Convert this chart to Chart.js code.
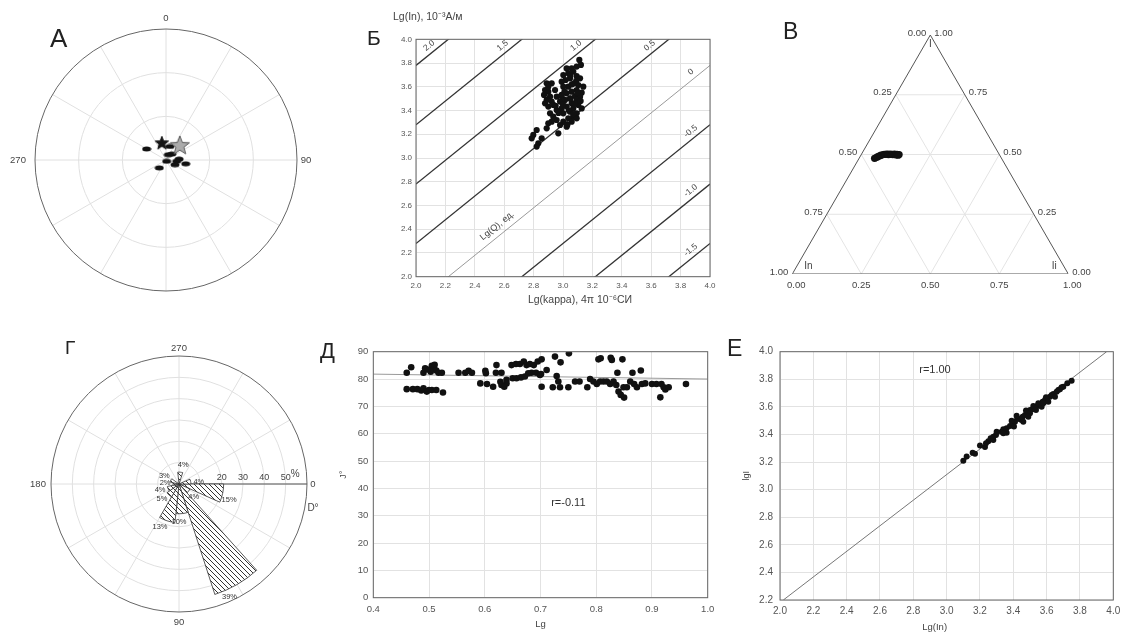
<!DOCTYPE html>
<html>
<head>
<meta charset="utf-8">
<script src="https://cdn.jsdelivr.net/npm/chart.js@4.4.1/dist/chart.umd.min.js"></script>
<style>
  html, body { margin: 0; padding: 0; background: #fff; overflow: hidden; }
  #fig { position: relative; width: 1121px; height: 633px; overflow: hidden; background: #fff; }
  #fig canvas { position: absolute; }
  .tag { position: absolute; font-family: "Liberation Sans", Arial, sans-serif; color: #222; line-height: 1; }
</style>
</head>
<body>
<div id="fig">
  <canvas id="chA" width="330" height="300" style="left:0;top:0"></canvas>
  <canvas id="chB" width="420" height="310" style="left:330px;top:0"></canvas>
  <canvas id="chV" width="381" height="300" style="left:740px;top:0"></canvas>
  <canvas id="chG" width="330" height="333" style="left:0;top:300px"></canvas>
  <canvas id="chD" width="420" height="333" style="left:330px;top:300px"></canvas>
  <canvas id="chE" width="400" height="333" style="left:740px;top:300px"></canvas>
  <div class="tag" style="left:50px;top:24.6px;font-size:26px">А</div>
  <div class="tag" style="left:367px;top:27.3px;font-size:21px">Б</div>
  <div class="tag" style="left:783px;top:20px;font-size:23px">В</div>
  <div class="tag" style="left:65px;top:337.5px;font-size:19px">Г</div>
  <div class="tag" style="left:320px;top:340px;font-size:22px">Д</div>
  <div class="tag" style="left:727px;top:337px;font-size:23px">Е</div>
</div>
<script>
const DEG = Math.PI / 180;
const FONT = '"Liberation Sans", Arial, sans-serif';

// --- A: directions (declination / inclination) ---
const aDec = [300, 23, 152, 97, 101, 118, 220, 16, 44, 86];
const aInc = [74.6, 86, 89, 82.6, 76.2, 83, 82.8, 80.2, 84.3, 81];
const aStarDec = [347];
const aStarInc = [77.3];
const aMeanDec = [42];
const aMeanInc = [75.8];
const aRingInc = [60, 30];
const aDirLabels = ["0", "90", "180", "270"];

// --- Б: Lg(kappa) vs Lg(In) with Lg(Q) isolines ---
const bKappa = [
  3.111, 3.122, 3.093, 3.059, 3.025, 3.070, 3.036, 3.002, 3.093, 3.116,
  3.048, 3.018, 2.991, 3.075, 3.104, 3.138, 3.036, 3.002, 3.093, 3.059,
  3.127, 3.025, 2.991, 3.082, 3.116, 3.048, 3.014, 3.093, 2.980, 3.059,
  3.104, 3.025, 3.070, 2.991, 3.127, 3.048, 3.093, 3.002, 3.070, 3.036,
  3.093, 2.957, 3.002, 3.059, 2.923, 2.900, 2.980, 3.025, 2.889, 2.968,
  2.821, 2.798, 2.787, 2.855, 2.832, 2.821, 2.878, 2.900, 2.871, 2.912,
  2.889, 2.923, 2.878, 2.900, 2.934, 2.957, 2.912, 2.934, 2.889, 2.923,
  2.900, 2.957, 2.946, 3.05, 3.08, 3.00, 3.04, 3.10, 3.06, 3.01,
  3.12, 2.97, 3.03, 3.07, 2.99, 3.09, 3.05, 2.95
];
const bIn = [
  3.826, 3.784, 3.770, 3.755, 3.755, 3.727, 3.713, 3.699, 3.691, 3.671,
  3.671, 3.657, 3.643, 3.629, 3.615, 3.601, 3.601, 3.601, 3.573, 3.559,
  3.550, 3.545, 3.531, 3.522, 3.517, 3.503, 3.489, 3.489, 3.475, 3.461,
  3.447, 3.433, 3.418, 3.418, 3.418, 3.390, 3.376, 3.376, 3.348, 3.334,
  3.334, 3.320, 3.306, 3.306, 3.306, 3.292, 3.278, 3.264, 3.250, 3.208,
  3.236, 3.194, 3.166, 3.166, 3.124, 3.096, 3.573, 3.559, 3.531, 3.517,
  3.489, 3.475, 3.461, 3.433, 3.447, 3.404, 3.376, 3.348, 3.629, 3.629,
  3.601, 3.517, 3.573, 3.50, 3.46, 3.45, 3.40, 3.55, 3.62, 3.56,
  3.48, 3.38, 3.28, 3.37, 3.52, 3.65, 3.69, 3.44
];
const qLevels = [2.0, 1.5, 1.0, 0.5, 0, -0.5, -1.0, -1.5];
const qOffset = 0.22;

// --- В: ternary In / I / Ii ---
const tI  = [0.484, 0.487, 0.491, 0.494, 0.497, 0.499, 0.501, 0.500, 0.502, 0.501, 0.499,
             0.502, 0.500, 0.501, 0.499, 0.502, 0.500, 0.498, 0.501, 0.499, 0.497, 0.500];
const tIi = [0.056, 0.061, 0.064, 0.069, 0.073, 0.078, 0.083, 0.087, 0.091, 0.096, 0.099,
             0.103, 0.107, 0.111, 0.115, 0.119, 0.122, 0.126, 0.129, 0.132, 0.135, 0.137];
const tGrid = [0.25, 0.5, 0.75];
const tTicks = [0, 0.25, 0.5, 0.75, 1];

// --- Г: rose of declinations, 24° bins ---
const roseBins = [0, 24, 48, 72, 96, 120, 144, 168, 192, 216, 240, 264, 288, 312, 336];
const rosePct = [15, 4, 39, 10, 13, 5, 4, 2, 3, 0, 0, 4, 0, 0, 4];
const roseBin = 24;
const roseMax = 43;
const roseRings = [10, 20, 30, 40, 50];
const roseRingMax = 60;
const roseTicks = [20, 30, 40, 50];

// --- Д: Lg vs J° ---
const dLg = [
  0.460, 0.468, 0.460, 0.471, 0.479, 0.486, 0.490, 0.496, 0.500, 0.505,
  0.513, 0.525, 0.490, 0.493, 0.505, 0.509, 0.513, 0.517, 0.523, 0.503,
  0.553, 0.565, 0.571, 0.577, 0.601, 0.602, 0.592, 0.604, 0.615, 0.621,
  0.620, 0.630, 0.628, 0.630, 0.639, 0.635, 0.639, 0.648, 0.656, 0.663,
  0.670, 0.675, 0.681, 0.688, 0.695, 0.702, 0.650, 0.657, 0.665, 0.672,
  0.678, 0.684, 0.692, 0.699, 0.702, 0.711, 0.722, 0.726, 0.729, 0.732,
  0.735, 0.736, 0.751, 0.750, 0.762, 0.770, 0.784, 0.789, 0.795, 0.801,
  0.804, 0.808, 0.807, 0.813, 0.819, 0.826, 0.828, 0.825, 0.831, 0.836,
  0.838, 0.840, 0.844, 0.850, 0.847, 0.849, 0.855, 0.861, 0.865, 0.868,
  0.873, 0.880, 0.882, 0.888, 0.900, 0.908, 0.915, 0.917, 0.921, 0.924,
  0.930, 0.961, 0.701, 0.497, 0.510
];
const dJ = [
  82.3, 84.3, 76.3, 76.3, 76.3, 75.8, 76.6, 75.4, 76.0, 76.0,
  76.0, 75.1, 82.3, 83.9, 84.8, 83.9, 83.1, 82.3, 82.3, 82.7,
  82.3, 82.3, 83.0, 82.3, 83.0, 82.1, 78.4, 78.2, 77.2, 85.1,
  82.3, 82.3, 79.0, 77.8, 78.4, 77.2, 79.7, 85.1, 85.5, 85.5,
  86.4, 85.1, 85.5, 85.1, 86.4, 87.2, 80.3, 80.3, 80.6, 80.9,
  82.1, 82.3, 82.3, 81.5, 77.2, 83.3, 77.0, 88.2, 81.1, 79.1,
  77.0, 86.1, 89.4, 77.0, 79.1, 79.1, 77.0, 80.0, 79.1, 78.2,
  87.2, 87.6, 79.1, 79.1, 79.1, 87.8, 87.0, 78.2, 79.1, 77.8,
  82.3, 75.4, 74.2, 73.2, 87.2, 77.0, 77.0, 79.1, 82.3, 78.2,
  77.0, 83.1, 78.2, 78.4, 78.2, 78.2, 73.3, 78.2, 77.0, 76.2,
  77.0, 78.2, 81.8, 83.5, 85.2
];
const dFitLg = [0.4, 1.0];
const dFitJ = [81.8, 80.0];

// --- Е: Lg(In) vs lgI ---
const eLgIn = [
  3.10, 3.12, 3.156, 3.17, 3.20, 3.23, 3.25, 3.264, 3.28, 3.296,
  3.33, 3.34, 3.36, 3.38, 3.396, 3.41, 3.424, 3.44, 3.456, 3.47,
  3.484, 3.50, 3.516, 3.53, 3.544, 3.56, 3.576, 3.59, 3.604, 3.62,
  3.64, 3.66, 3.68, 3.70, 3.724, 3.75, 3.30, 3.36, 3.39, 3.42,
  3.45, 3.476, 3.52, 3.50, 3.55, 3.57, 3.596, 3.63, 3.65, 3.67,
  3.236, 3.28, 3.34, 3.404, 3.46, 3.49, 3.536, 3.58, 3.61, 3.69
];
const eLgI = [
  3.21, 3.24, 3.268, 3.26, 3.32, 3.31, 3.35, 3.372, 3.384, 3.396,
  3.42, 3.437, 3.445, 3.461, 3.481, 3.493, 3.517, 3.51, 3.529, 3.541,
  3.558, 3.577, 3.582, 3.597, 3.606, 3.621, 3.638, 3.65, 3.662, 3.674,
  3.693, 3.71, 3.727, 3.746, 3.771, 3.79, 3.42, 3.413, 3.50, 3.535,
  3.505, 3.573, 3.606, 3.553, 3.626, 3.601, 3.669, 3.686, 3.674, 3.722,
  3.336, 3.36, 3.408, 3.457, 3.493, 3.529, 3.577, 3.626, 3.638, 3.742
];
const eFitLgIn = [2.02, 3.96];
const eFitLgI = [2.2, 4.0];

Chart.defaults.font.family = FONT;
Chart.defaults.color = "#444";
Chart.defaults.animation = false;
Chart.defaults.plugins.legend.display = false;
Chart.defaults.plugins.tooltip.enabled = false;

const pairs = (xs, ys) => xs.map((x, i) => ({x, y: ys[i]}));

const text = (ctx, str, x, y, o = {}) => {
  ctx.save();
  ctx.font = `${o.size || 10}px ${FONT}`;
  ctx.fillStyle = o.color || "#444";
  ctx.textAlign = o.align || "center";
  ctx.textBaseline = o.base || "middle";
  ctx.translate(x, y);
  if (o.rot) ctx.rotate(o.rot);
  ctx.fillText(str, 0, 0);
  ctx.restore();
};

// marker images
const ellipseMark = (w, h) => {
  const c = document.createElement("canvas");
  c.width = w; c.height = h;
  const g = c.getContext("2d");
  g.fillStyle = "#111";
  g.beginPath();
  g.ellipse(w / 2, h / 2, w / 2 - 0.5, h / 2 - 0.5, 0, 0, 2 * Math.PI);
  g.fill();
  return c;
};
const starMark = (size, fill, stroke) => {
  const c = document.createElement("canvas");
  c.width = size; c.height = size;
  const g = c.getContext("2d");
  const R = size / 2 - 1, r = R * 0.42, m = size / 2;
  g.beginPath();
  for (let k = 0; k < 10; k++) {
    const rad = k % 2 ? r : R;
    const a = -Math.PI / 2 + k * Math.PI / 5;
    g.lineTo(m + rad * Math.cos(a), m + 1 + rad * Math.sin(a));
  }
  g.closePath();
  g.fillStyle = fill; g.fill();
  g.strokeStyle = stroke; g.lineWidth = 1; g.stroke();
  return c;
};
const hatch = () => {
  const c = document.createElement("canvas");
  c.width = 5; c.height = 5;
  const g = c.getContext("2d");
  g.fillStyle = "#fff"; g.fillRect(0, 0, 5, 5);
  g.strokeStyle = "#333"; g.lineWidth = 1;
  g.beginPath();
  g.moveTo(-1, -1); g.lineTo(6, 6);
  g.moveTo(-1, 4); g.lineTo(1, 6);
  g.moveTo(4, -1); g.lineTo(6, 1);
  g.stroke();
  return document.createElement("canvas").getContext("2d").createPattern(c, "repeat");
};

// box around the plotting area
const frame = {
  id: "frame",
  afterDatasetsDraw(chart) {
    const {ctx, chartArea: a} = chart;
    ctx.save();
    ctx.strokeStyle = "#666"; ctx.lineWidth = 1;
    ctx.strokeRect(a.left, a.top, a.width, a.height);
    ctx.restore();
  }
};

const linAxis = (min, max, step, digits, size, pad, fit) => ({
  type: "linear", min, max,
  ticks: {stepSize: step, font: {size}, color: "#555", padding: pad, callback: v => Number(v).toFixed(digits)},
  grid: {color: "#e2e2e2", drawTicks: false},
  border: {display: false},
  afterFit: fit,
});

const lineSet = (data, color, width) => ({data, showLine: true, pointRadius: 0, borderColor: color, borderWidth: width, fill: false});

// ---------- A ----------
const stereo = (dec, inc) => {
  const r = (90 - inc) / 90;
  return {x: r * Math.sin(dec * DEG), y: r * Math.cos(dec * DEG)};
};
const stereoGrid = {
  id: "stereoGrid",
  beforeDatasetsDraw(chart) {
    const {ctx, scales: {x, y}} = chart;
    const cx = x.getPixelForValue(0), cy = y.getPixelForValue(0);
    const R = x.getPixelForValue(1) - cx;
    ctx.save();
    ctx.strokeStyle = "#e0e0e0"; ctx.lineWidth = 1;
    for (let a = 0; a < 360; a += 30) {
      ctx.beginPath(); ctx.moveTo(cx, cy);
      ctx.lineTo(cx + R * Math.sin(a * DEG), cy - R * Math.cos(a * DEG));
      ctx.stroke();
    }
    aRingInc.forEach(inc => {
      ctx.beginPath(); ctx.arc(cx, cy, R * (90 - inc) / 90, 0, 2 * Math.PI); ctx.stroke();
    });
    ctx.strokeStyle = "#666";
    ctx.beginPath(); ctx.arc(cx, cy, R, 0, 2 * Math.PI); ctx.stroke();
    ctx.restore();
    text(ctx, aDirLabels[0], cx, cy - R - 11, {size: 9.5});
    text(ctx, aDirLabels[1], cx + R + 9, cy, {size: 9.5});
    text(ctx, aDirLabels[2], cx, cy + R + 12, {size: 9.5});
    text(ctx, aDirLabels[3], cx - R - 17, cy, {size: 9.5});
  }
};
new Chart(document.getElementById("chA"), {
  type: "scatter",
  data: {datasets: [
    {data: aMeanDec.map((d, i) => stereo(d, aMeanInc[i])), pointStyle: starMark(22, "#ababab", "#5a5a5a"), pointRadius: 10},
    {data: aStarDec.map((d, i) => stereo(d, aStarInc[i])), pointStyle: starMark(16, "#151515", "#151515"), pointRadius: 7},
    {data: aDec.map((d, i) => stereo(d, aInc[i])), pointStyle: ellipseMark(10, 6), pointRadius: 5},
  ]},
  options: {
    responsive: false,
    layout: {padding: {left: 35, top: 31, right: 33, bottom: 7}},
    scales: {x: {min: -1, max: 1, display: false}, y: {min: -1, max: 1, display: false}},
  },
  plugins: [stereoGrid],
});

// ---------- Б ----------
const isoNotes = {
  id: "isoNotes",
  afterDatasetsDraw(chart) {
    const {ctx, chartArea: a, scales: {x, y}} = chart;
    qLevels.forEach(L => {
      const c = L - qOffset;
      const ex = c >= 0 ? 4 - c : 4, ey = c >= 0 ? 4 : 4 + c;
      const px = x.getPixelForValue(ex), py = y.getPixelForValue(ey);
      const qx = x.getPixelForValue(ex - 0.5), qy = y.getPixelForValue(ey - 0.5);
      const len = Math.hypot(qx - px, qy - py);
      const ux = (qx - px) / len, uy = (qy - py) / len;
      const tx = px + ux * 19 - uy * 7, ty = py + uy * 19 + ux * 7;
      const rot = Math.atan2(py - qy, px - qx);
      text(ctx, L === 0 ? "0" : L.toFixed(1), tx, ty, {size: 8.5, rot});
    });
    // name of the isoline family along the zero line
    const gx = 2.59, gy = gx - qOffset;
    const p1x = x.getPixelForValue(gx), p1y = y.getPixelForValue(gy);
    const p2x = x.getPixelForValue(gx + 0.5), p2y = y.getPixelForValue(gy + 0.5);
    const l = Math.hypot(p2x - p1x, p2y - p1y);
    const vx = (p2x - p1x) / l, vy = (p2y - p1y) / l;
    text(ctx, "Lg(Q), ед.", p1x + vy * 9, p1y - vx * 9, {size: 9, rot: Math.atan2(vy, vx)});
    text(ctx, "Lg(In), 10⁻³А/м", a.left - 23, 17, {size: 10.5, align: "left"});
    text(ctx, "Lg(kappa), 4π 10⁻⁶СИ", (a.left + a.right) / 2 + 17, a.bottom + 23.5, {size: 10.5});
  }
};
new Chart(document.getElementById("chB"), {
  type: "scatter",
  data: {datasets: [
    {data: pairs(bKappa, bIn), pointRadius: 3.1, backgroundColor: "#111", borderWidth: 0},
    ...qLevels.map(L => lineSet([{x: 2, y: 2 + L - qOffset}, {x: 4, y: 4 + L - qOffset}], L === 0 ? "#9a9a9a" : "#333", L === 0 ? 1 : 1.3)),
  ]},
  options: {
    responsive: false,
    layout: {padding: {left: 0, top: 39.3, right: 40, bottom: 0}},
    scales: {
      x: linAxis(2, 4, 0.2, 1, 8, 4, s => { s.height = 33.3; }),
      y: linAxis(2, 4, 0.2, 1, 8, 4, s => { s.width = 86; }),
    },
  },
  plugins: [frame, isoNotes],
});

// ---------- В ----------
const H3 = Math.sqrt(3) / 2;
const toTri = (I, Ii) => ({x: Ii + I / 2, y: I * H3});
const triSets = [lineSet([toTri(0, 0), toTri(0, 1), toTri(1, 0), toTri(0, 0)], "#555", 1)];
tGrid.forEach(k => {
  triSets.push(lineSet([toTri(k, 0), toTri(k, 1 - k)], "#e4e4e4", 1));
  triSets.push(lineSet([toTri(0, k), toTri(1 - k, k)], "#e4e4e4", 1));
  triSets.push(lineSet([toTri(0, 1 - k), toTri(1 - k, 0)], "#e4e4e4", 1));
});
const triNotes = {
  id: "triNotes",
  afterDatasetsDraw(chart) {
    const {ctx, scales: {x, y}} = chart;
    const P = p => [x.getPixelForValue(p.x), y.getPixelForValue(p.y)];
    tTicks.forEach(k => {
      const [lx, ly] = P(toTri(k, 0));
      text(ctx, (1 - k).toFixed(2), lx - 4, ly - 2, {size: 9.5, align: "right"});
      const [rx, ry] = P(toTri(k, 1 - k));
      text(ctx, k.toFixed(2), rx + 4, ry - 2, {size: 9.5, align: "left"});
      const [bx, by] = P(toTri(0, k));
      text(ctx, k.toFixed(2), bx + (k === 0 ? 4 : k === 1 ? 4 : 0), by + 11, {size: 9.5});
    });
    const [ax, ay] = P(toTri(1, 0));
    const [blx, bly] = P(toTri(0, 0));
    const [brx, bry] = P(toTri(0, 1));
    text(ctx, "I", ax, ay + 9, {size: 10});
    text(ctx, "In", blx + 16, bly - 8, {size: 10});
    text(ctx, "Ii", brx - 14, bry - 8, {size: 10});
  }
};
new Chart(document.getElementById("chV"), {
  type: "scatter",
  data: {datasets: [
    {data: tI.map((I, i) => toTri(I, tIi[i])), pointRadius: 3.6, backgroundColor: "#111", borderWidth: 0},
    ...triSets,
  ]},
  options: {
    responsive: false,
    layout: {padding: {left: 52.3, top: 35, right: 52.7, bottom: 26}},
    scales: {x: {min: 0, max: 1, display: false}, y: {min: 0, max: H3, display: false}},
  },
  plugins: [triNotes],
});

// ---------- Г ----------
const roseGrid = {
  id: "roseGrid",
  beforeDatasetsDraw(chart) {
    const {ctx} = chart;
    const r = chart.scales.r;
    const cx = r.xCenter, cy = r.yCenter, R = r.drawingArea;
    ctx.save();
    ctx.strokeStyle = "#e0e0e0"; ctx.lineWidth = 1;
    for (let a = 0; a < 360; a += 30) {
      ctx.beginPath(); ctx.moveTo(cx, cy);
      ctx.lineTo(cx + R * Math.cos(a * DEG), cy + R * Math.sin(a * DEG));
      ctx.stroke();
    }
    roseRings.forEach(v => {
      ctx.beginPath(); ctx.arc(cx, cy, R * v / roseRingMax, 0, 2 * Math.PI); ctx.stroke();
    });
    ctx.strokeStyle = "#666";
    ctx.beginPath(); ctx.arc(cx, cy, R, 0, 2 * Math.PI); ctx.stroke();
    ctx.strokeStyle = "#555";
    ctx.beginPath(); ctx.moveTo(cx, cy); ctx.lineTo(cx + R, cy); ctx.stroke();
    ctx.restore();
  },
  afterDatasetsDraw(chart) {
    const {ctx} = chart;
    const r = chart.scales.r;
    const cx = r.xCenter, cy = r.yCenter, R = r.drawingArea;
    rosePct.forEach((v, i) => {
      if (!v) return;
      const mid = (roseBins[i] + roseBin / 2 + 6) * DEG;
      const d = r.getDistanceFromCenterForValue(v) + 8;
      text(ctx, v + "%", cx + d * Math.cos(mid), cy + d * Math.sin(mid), {size: 7.5, color: "#333"});
    });
    roseTicks.forEach(v => text(ctx, String(v), cx + R * v / roseRingMax, cy - 6, {size: 9}));
    text(ctx, "%", cx + R * 54.5 / roseRingMax, cy - 10, {size: 10});
    text(ctx, "0", cx + R + 6, cy, {size: 9.5});
    text(ctx, "D°", cx + R + 6, cy + 24, {size: 10});
    text(ctx, "270", cx, cy - R - 8, {size: 9.5});
    text(ctx, "90", cx, cy + R + 10, {size: 9.5});
    text(ctx, "180", cx - R - 13, cy, {size: 9.5});
  }
};
new Chart(document.getElementById("chG"), {
  type: "polarArea",
  data: {
    labels: roseBins.map(String),
    datasets: [{data: rosePct, angle: roseBin, backgroundColor: hatch(), borderColor: "#333", borderWidth: 0.8}],
  },
  options: {
    responsive: false,
    layout: {padding: {left: 51, top: 56, right: 23, bottom: 21}},
    scales: {r: {
      min: 0, max: roseMax, startAngle: 90,
      ticks: {display: false}, grid: {display: false},
      angleLines: {display: false}, pointLabels: {display: false},
    }},
  },
  plugins: [roseGrid],
});

// ---------- Д ----------
const dNotes = {
  id: "dNotes",
  afterDatasetsDraw(chart) {
    const {ctx, chartArea: a, scales: {x, y}} = chart;
    text(ctx, "r=-0.11", x.getPixelForValue(0.75), y.getPixelForValue(34.6), {size: 11, color: "#333"});
    text(ctx, "Lg", (a.left + a.right) / 2, a.bottom + 27, {size: 9.5});
    text(ctx, "J°", a.left - 30, (a.top + a.bottom) / 2, {size: 9, rot: -Math.PI / 2});
  }
};
new Chart(document.getElementById("chD"), {
  type: "scatter",
  data: {datasets: [
    {data: pairs(dLg, dJ), pointRadius: 3.3, backgroundColor: "#111", borderWidth: 0},
    lineSet(pairs(dFitLg, dFitJ), "#9a9a9a", 1),
  ]},
  options: {
    responsive: false,
    layout: {padding: {left: 0, top: 51.7, right: 42.3, bottom: 0}},
    scales: {
      x: linAxis(0.4, 1.0, 0.1, 1, 9.5, 6, s => { s.height = 35.3; }),
      y: linAxis(0, 90, 10, 0, 9.5, 5, s => { s.width = 43.3; }),
    },
  },
  plugins: [frame, dNotes],
});

// ---------- Е ----------
const eNotes = {
  id: "eNotes",
  afterDatasetsDraw(chart) {
    const {ctx, chartArea: a, scales: {x, y}} = chart;
    text(ctx, "r=1.00", x.getPixelForValue(2.93), y.getPixelForValue(3.867), {size: 11, color: "#333"});
    text(ctx, "Lg(In)", (a.left + a.right) / 2 - 12, a.bottom + 27, {size: 9.5});
    text(ctx, "lgI", a.left - 33, (a.top + a.bottom) / 2, {size: 9, rot: -Math.PI / 2});
  }
};
new Chart(document.getElementById("chE"), {
  type: "scatter",
  data: {datasets: [
    {data: pairs(eLgIn, eLgI), pointRadius: 3, backgroundColor: "#111", borderWidth: 0},
    lineSet(pairs(eFitLgIn, eFitLgI), "#777", 1),
  ]},
  options: {
    responsive: false,
    layout: {padding: {left: 0, top: 51.7, right: 26.7, bottom: 0}},
    scales: {
      x: linAxis(2, 4, 0.2, 1, 10, 5, s => { s.height = 33; }),
      y: linAxis(2.2, 4, 0.2, 1, 10, 7, s => { s.width = 40; }),
    },
  },
  plugins: [frame, eNotes],
});
</script>
</body>
</html>
